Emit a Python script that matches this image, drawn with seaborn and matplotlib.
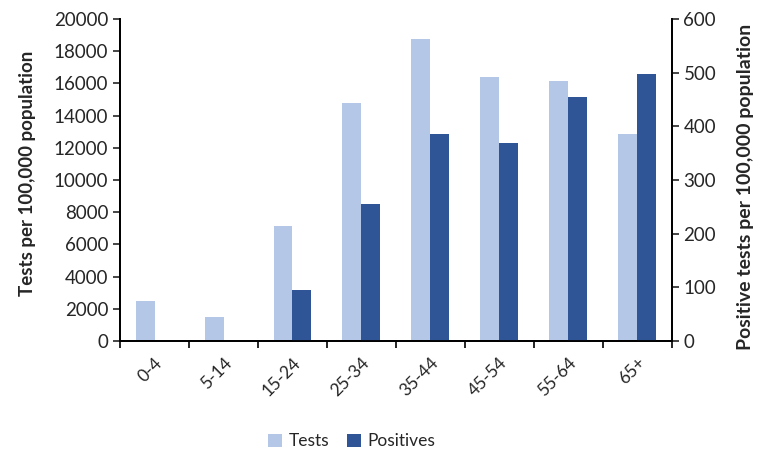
import matplotlib
matplotlib.use("Agg")
import matplotlib.pyplot as plt
import seaborn as sns
import pandas as pd
import numpy as np
from matplotlib.patches import Patch

# Age groups and rates per 100,000 population
age_groups = ["0-4", "5-14", "15-24", "25-34", "35-44", "45-54", "55-64", "65+"]
tests = [2480, 1470, 7120, 14780, 18740, 16380, 16150, 12880]
positives = [0, 0, 95, 255, 386, 369, 454, 498]
series = ["Tests", "Positives"]
colors = {"Tests": "#B4C7E7", "Positives": "#2F5597"}

sns.set_style("ticks")
plt.rcParams["font.family"] = ["Lato", "DejaVu Sans"]

n = len(age_groups)
# Long tables: each axis gets both hue levels so the bars dodge side by side
df_left = pd.DataFrame({
    "Age": age_groups * 2,
    "Series": ["Tests"] * n + ["Positives"] * n,
    "Value": tests + [np.nan] * n,
})
df_right = pd.DataFrame({
    "Age": age_groups * 2,
    "Series": ["Tests"] * n + ["Positives"] * n,
    "Value": [np.nan] * n + positives,
})

fig = plt.figure(figsize=(7.65, 4.54), dpi=100)
ax = fig.add_axes([0.157, 0.249, 0.721, 0.709])
ax2 = ax.twinx()

sns.barplot(data=df_left, x="Age", y="Value", hue="Series", hue_order=series,
            order=age_groups, palette=colors, saturation=1, width=0.55,
            linewidth=0, errorbar=None, legend=False, ax=ax)
sns.barplot(data=df_right, x="Age", y="Value", hue="Series", hue_order=series,
            order=age_groups, palette=colors, saturation=1, width=0.55,
            linewidth=0, errorbar=None, legend=False, ax=ax2)

ax.set_ylim(0, 20000)
ax.set_yticks(np.arange(0, 20001, 2000))
ax2.set_ylim(0, 600)
ax2.set_yticks(np.arange(0, 601, 100))
ax.set_xlim(-0.5, n - 0.5)

# Ticks between categories, labels centred under each pair
ax.set_xticks(np.arange(-0.5, n, 1.0))
ax.set_xticklabels([])
ax.set_xticks(np.arange(n), minor=True)
ax.set_xticklabels(age_groups, minor=True, rotation=45, ha="right",
                   rotation_mode="anchor", fontsize=12.5)
ax.tick_params(axis="x", which="minor", length=0, pad=10)
ax.tick_params(axis="x", which="major", length=5, width=1.2, color="black")
ax.tick_params(axis="y", labelsize=13.5, length=5, width=1.2)
ax2.tick_params(axis="y", labelsize=13.5, length=5, width=1.2)

ax.set_xlabel("")
ax.set_ylabel("Tests per 100,000 population", fontsize=13.5, fontweight="bold")
ax2.set_ylabel("Positive tests per 100,000 population", fontsize=14,
               fontweight="bold")
ax.yaxis.set_label_coords(-0.152, 0.52)
ax2.yaxis.set_label_coords(1.119, 0.48)

for a in (ax, ax2):
    a.spines["top"].set_visible(False)
    for s in ("left", "right", "bottom"):
        a.spines[s].set_linewidth(1.3)
        a.spines[s].set_color("black")

handles = [Patch(facecolor=colors[s], edgecolor="none", label=s) for s in series]
fig.legend(handles=handles, loc="center", bbox_to_anchor=(0.46, 0.028), ncol=2,
           frameon=False, fontsize=12.5, handlelength=0.8, handleheight=0.8,
           handletextpad=0.4, columnspacing=1.0)

fig.savefig("out.png", dpi=100)
